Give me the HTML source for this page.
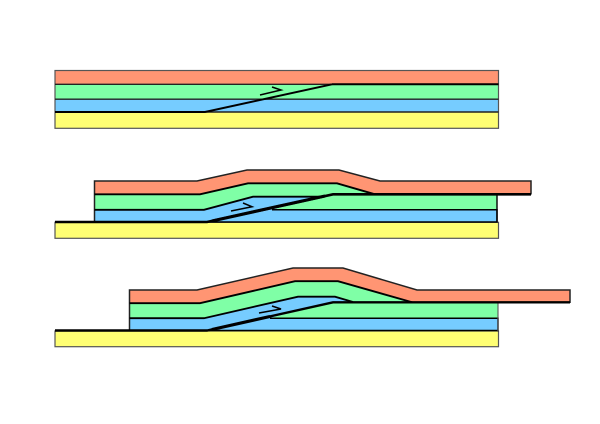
<!DOCTYPE html>
<html><head><meta charset="utf-8"><style>html,body{margin:0;padding:0;background:#fff}svg{display:block}</style></head>
<body><svg width="600" height="424" viewBox="0 0 600 424" xmlns="http://www.w3.org/2000/svg" fill="none" stroke-linejoin="miter">
<defs><filter id="b" x="-5%" y="-5%" width="110%" height="110%"><feGaussianBlur stdDeviation="0.35"/></filter></defs>
<rect width="600" height="424" fill="#fff"/>
<g filter="url(#b)">
<g>
<rect x="55" y="70.5" width="443.5" height="13.5" fill="#ff9573"/>
<rect x="55" y="84" width="443.5" height="15" fill="#7fffa6"/>
<rect x="55" y="99" width="443.5" height="13" fill="#76ccff"/>
<rect x="55" y="112" width="443.5" height="16.3" fill="#ffff73"/>
<rect x="55" y="70.5" width="443.5" height="57.8" stroke="#555" stroke-width="1.2"/>
<path d="M55 84.3H498.5M55 99.2H498.5" stroke="#222" stroke-width="1.4"/>
<path d="M205 112H498.5" stroke="#222" stroke-width="1.5"/>
<path d="M332 84.3H498.5" stroke="#000" stroke-width="2"/>
<path d="M55 112H205L332 84.3" stroke="#000" stroke-width="2"/>
<path d="M260 95L281 90L272 87" stroke="#000" stroke-width="1.5"/>
</g>
<g>
<rect x="55" y="222.3" width="443.5" height="16" fill="#ffff73" stroke="#555" stroke-width="1.2"/>
<path d="M207 222L272 209.7H497V222Z" fill="#76ccff"/>
<path d="M272 209.7L333 194H497V209.7Z" fill="#7fffa6"/>
<path d="M94.5 209.7H204L253 196.5H322L272 209.7L207 222H94.5Z" fill="#76ccff"/>
<path d="M94.5 194H200L248 183H337L375 194H333L322 196.5H253L204 209.7H94.5Z" fill="#7fffa6"/>
<path d="M94.5 181H197L247 170H339L380 181H531V194H375L337 183H248L200 194H94.5Z" fill="#ff9573"/>
<path d="M94.5 222V181H197L247 170H339L380 181H531V194.5" stroke="#222" stroke-width="1.5"/>
<path d="M94.5 194.3H200L248 183.3H337L375 194.3" stroke="#000" stroke-width="1.9"/>
<path d="M94.5 209.8H204L253 196.7H322" stroke="#000" stroke-width="1.8"/>
<path d="M272 209.8H497V222H207" stroke="#000" stroke-width="1.5"/>
<path d="M497 194V222" stroke="#000" stroke-width="1.4"/>
<path d="M55 222H207L333 194.3H531" stroke="#000" stroke-width="2.6"/>
<path d="M212 221L325 196" stroke="#000" stroke-width="3.2"/>
<path d="M231 211L252 206.7L243 203" stroke="#000" stroke-width="1.5"/>
</g>
<g>
<rect x="55" y="331" width="443.5" height="15.7" fill="#ffff73" stroke="#555" stroke-width="1.2"/>
<path d="M207 330.5L270 318H498V330.5Z" fill="#76ccff"/>
<path d="M270 318L333 302H498V318Z" fill="#7fffa6"/>
<path d="M129.5 318H204L298 296.5H335L353 302H333L270 318L207 330.5H129.5Z" fill="#76ccff"/>
<path d="M129.5 303H200L295 281H338L413 302.5H353L335 296.5H298L204 318H129.5Z" fill="#7fffa6"/>
<path d="M129.5 290H197L293 268H343L417 290H570V303H413L338 281H295L200 303H129.5Z" fill="#ff9573"/>
<path d="M129.5 330V290H197L293 268H343L417 290H570V303" stroke="#222" stroke-width="1.5"/>
<path d="M129.5 303.2H200L295 281.2H338L413 302.5" stroke="#000" stroke-width="1.9"/>
<path d="M129.5 318.2H204L298 296.7H335L353 302" stroke="#000" stroke-width="1.8"/>
<path d="M270 318.2H498V330.5H207" stroke="#000" stroke-width="1.5"/>
<path d="M498 303V331" stroke="#555" stroke-width="1.1"/>
<path d="M55 330.5H207L333 302.3H570" stroke="#000" stroke-width="2.4"/>
<path d="M212 329.5L270 316.5" stroke="#000" stroke-width="3.2"/>
<path d="M259 313L281 309L272 306" stroke="#000" stroke-width="1.5"/>
</g>
</g>
</svg></body></html>
